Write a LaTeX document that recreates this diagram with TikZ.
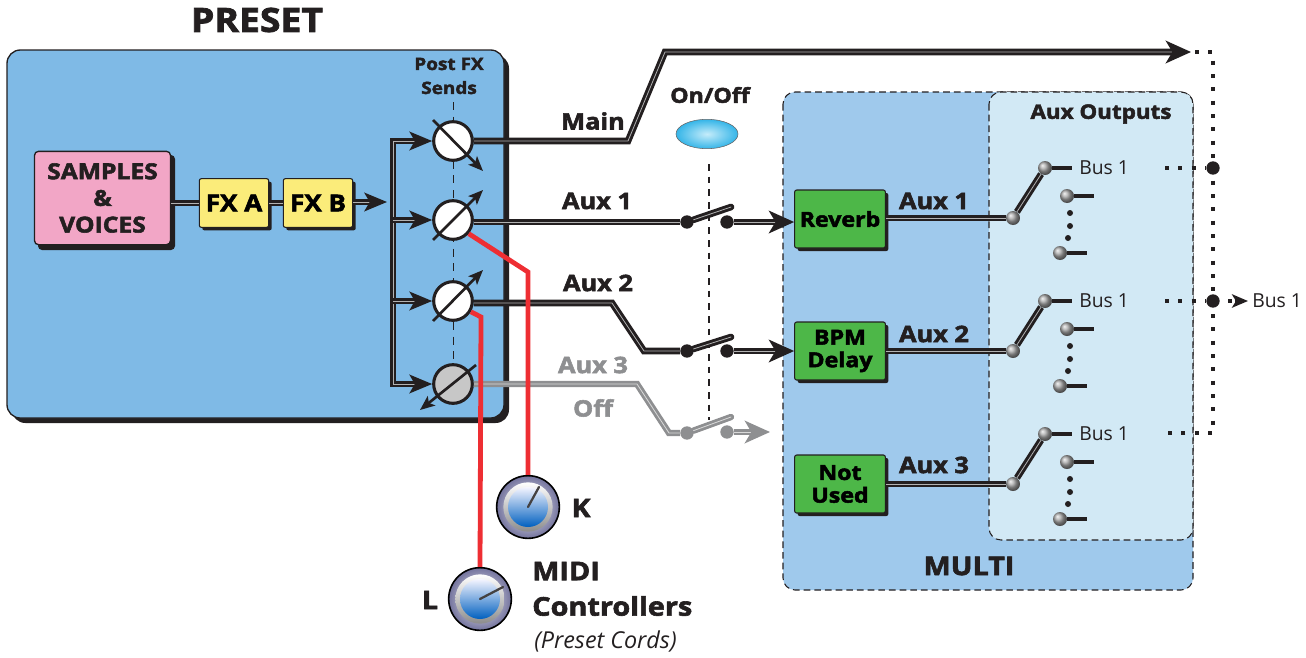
\documentclass[tikz,border=0pt]{standalone}
\usepackage{fontspec}
\setmainfont{Open Sans}[BoldFeatures={FakeBold=2.4,FakeStretch=1.12}]
\usetikzlibrary{arrows.meta,shapes.geometric,shadings}
\definecolor{presetblue}{HTML}{7FBAE6}
\definecolor{multiblue}{HTML}{9FC9EC}
\definecolor{auxblue}{HTML}{D2E9F5}
\definecolor{inkblack}{HTML}{231F20}
\definecolor{offgray}{HTML}{8E8F91}
\definecolor{cordred}{HTML}{EE2E33}
\definecolor{fxyellow}{HTML}{FBEC7A}
\definecolor{srcpink}{HTML}{F2A6C6}
\definecolor{fxgreen}{HTML}{4DB748}
\definecolor{ledin}{HTML}{C5ECFA}
\definecolor{ledout}{HTML}{35B5E8}

\begin{document}
\begin{tikzpicture}[
  x=0.75pt, y=-0.75pt,
  wire/.style={draw=inkblack, line width=2.2pt, double=black!30, double distance=0.6pt, line join=miter},
  grwire/.style={draw=offgray, line width=2.1pt, double=black!15, double distance=0.6pt, line join=miter},
  arm/.style={wire, line cap=round},
  grarm/.style={grwire, line cap=round},
  tip/.style={-{Stealth[length=19pt,width=17pt,inset=5pt]}},
  bustip/.style={-{Stealth[length=17pt,width=14pt,inset=4pt]}},
  needle/.style={draw=inkblack, line width=2pt, -{Stealth[length=11pt,width=9pt,inset=2.5pt]}},
  knob/.style={circle, draw=inkblack, line width=2.3pt, fill=white, inner sep=0pt, minimum size=29pt},
  cord/.style={draw=cordred, line width=3.6pt, line join=miter},
  sdot/.style={circle, fill=inkblack, inner sep=0pt, minimum size=10pt},
  gdot/.style={sdot, fill=offgray},
  ball/.style={circle, inner sep=0pt, minimum size=10.5pt, ball color=black!35},
  stub/.style={draw=inkblack, line width=2.4pt},
  busdot/.style={draw=inkblack, line width=3.2pt, dash pattern=on 3pt off 7pt},
  smalldot/.style={circle, fill=inkblack, inner sep=0pt, minimum size=4.5pt},
  fxbox/.style={draw=inkblack, line width=0.8pt, rounded corners=1.5pt, fill=fxyellow, minimum width=52pt, minimum height=36.5pt, inner sep=0pt, font=\bfseries\fontsize{17.5}{20}\selectfont},
  fxshadow/.style={fill=inkblack, rounded corners=1.5pt, minimum width=52pt, minimum height=36.5pt, inner sep=0pt},
  greenbox/.style={draw=inkblack, line width=0.8pt, rounded corners=1.5pt, fill=fxgreen, minimum width=68pt, minimum height=43.5pt, inner sep=0pt, align=center, font=\bfseries\fontsize{15.5}{19}\selectfont},
  greenshadow/.style={fill=inkblack, rounded corners=1.5pt, minimum width=68pt, minimum height=43.5pt, inner sep=0pt},
  lbl/.style={font=\lblfont, text=inkblack, inner sep=0pt},
  buslbl/.style={font=\fontsize{14.5}{17}\selectfont, text=inkblack, inner sep=0pt},
  ctlouter/.style={circle, draw=black, line width=1.2pt, inner sep=0pt, minimum size=47pt, inner color=white, outer color=blue!30!black!55},
  ctlring/.style={circle, inner sep=0pt, minimum size=37pt, top color=white, bottom color=black!45},
  ctlface/.style={circle, inner sep=0pt, minimum size=30pt, top color=blue!4, bottom color=blue!50!cyan!75!black},
  ptr/.style={draw=inkblack!85, line width=1.7pt, line cap=round}
]
\newcommand{\lblfont}{\bfseries\fontsize{17}{20}\selectfont}
\useasboundingbox (0,0) rectangle (1306,657);

% --- Preset ---
\fill[inkblack, rounded corners=10pt] (12,55) rectangle (509,423);
\filldraw[draw=inkblack, line width=1pt, fill=presetblue, rounded corners=10pt] (7,50) rectangle (504,418);
\node[lbl, font=\bfseries\fontsize{25}{28}\selectfont] (title) at (257,20) {PRESET};
\node[lbl, font=\bfseries\fontsize{12.7}{18}\selectfont, align=center] (sends) at (449,76) {Post FX\\Sends};
\draw[inkblack, line width=0.7pt, dash pattern=on 6pt off 5pt] (453,102) -- (453,385);

% --- Samples and effects ---
\fill[inkblack, rounded corners=3pt] (38,155) rectangle (175,250);
\node[draw=inkblack, line width=1pt, rounded corners=3pt, fill=srcpink, minimum width=102pt, minimum height=70pt, inner sep=0pt, align=center, lbl, font=\bfseries\fontsize{16.5}{20}\selectfont] (samples) at (102.5,198) {SAMPLES\\\&\\VOICES};
\node[fxshadow] at (237,206) {};
\node[fxbox] (fxa) at (234,203) {FX A};
\node[fxshadow] at (321,206) {};
\node[fxbox] (fxb) at (318,203) {FX B};
\coordinate (busin) at (387,202);
\draw[wire] (samples.east |- fxa) -- (fxa);
\draw[wire] (fxa) -- (fxb);
\draw[wire, bustip] (fxb.east |- busin) -- (busin);

% --- Post FX sends ---
\node[knob] (ka) at (453,141) {};
\node[knob] (kb) at (453,220) {};
\node[knob] (kc) at (453,301) {};
\node[knob, fill=black!22] (kd) at (453,384) {};
\coordinate (bust) at (393,141);
\coordinate (busb) at (393,220);
\coordinate (busc) at (393,301);
\coordinate (busd) at (393,384);
\draw[wire, {Stealth[length=17pt,width=14pt,inset=4pt]}-{Stealth[length=17pt,width=14pt,inset=4pt]}] (ka) -- (bust) -- (busd) -- (kd);
\draw[wire, bustip] (busb) -- (kb);
\draw[wire, bustip] (busc) -- (kc);

\coordinate (kas) at (433,120);
\coordinate (kae) at (483,171);
\coordinate (kbs) at (433,240);
\coordinate (kbe) at (483,190);
\coordinate (kcs) at (433,321);
\coordinate (kce) at (483,270);
\coordinate (kds) at (476,365);
\coordinate (kde) at (420,410);
\draw[needle] (kas) -- (kae);
\draw[needle] (kbs) -- (kbe);
\draw[needle] (kcs) -- (kce);
\draw[needle] (kds) -- (kde);

% --- Controllers ---
\coordinate (elbk) at (528,272);
\coordinate (elbl) at (481,317);
\node[ctlouter] (ctlk) at (528,507) {};
\node[ctlring] at (ctlk) {};
\node[ctlface] (facek) at (ctlk) {};
\node[ctlouter] (ctll) at (480,599) {};
\node[ctlring] at (ctll) {};
\node[ctlface] (facel) at (ctll) {};
\coordinate (ptrk) at (539,487);
\coordinate (ptrl) at (503,587);
\draw[ptr] (ctlk.center) -- (ptrk);
\draw[ptr] (ctll.center) -- (ptrl);
\node[lbl, font=\bfseries\fontsize{19}{21}\selectfont] (lblk) at (581,508) {K};
\node[lbl, font=\bfseries\fontsize{19}{21}\selectfont] (lbll) at (430,600) {L};
\node[lbl, anchor=west, font=\bfseries\fontsize{19.3}{21}\selectfont] (midi) at (532,571) {MIDI};
\node[lbl, anchor=west, font=\bfseries\fontsize{19.3}{21}\selectfont] (ctrls) at (532,606) {Controllers};
\node[buslbl, anchor=west, font=\itshape\fontsize{17.5}{20}\selectfont] (cords) at (534,641) {(Preset Cords)};

% --- Multi ---
\filldraw[draw=inkblack, line width=0.8pt, dash pattern=on 5pt off 3pt, fill=multiblue, rounded corners=9pt] (783,92) rectangle (1193,590);
\filldraw[draw=inkblack, line width=0.8pt, dash pattern=on 5pt off 3pt, fill=auxblue, rounded corners=9pt] (989,92) rectangle (1193,540);
\node[lbl, font=\bfseries\fontsize{19.3}{21}\selectfont] (multi) at (969,566) {MULTI};
\node[lbl, font=\bfseries\fontsize{15}{17}\selectfont] (auxout) at (1101,114) {Aux Outputs};
\node[greenshadow] at (843,222) {};
\node[greenbox] (reverb) at (840,219) {Reverb};
\node[greenshadow] at (843,354) {};
\node[greenbox] (bpm) at (840,351) {BPM\\[-2pt]Delay};
\node[greenshadow] at (843,487) {};
\node[greenbox] (notused) at (840,484) {Not\\[-2pt]Used};
\node[lbl] (lblra) at (934,201) {Aux 1};
\node[lbl] (lblrb) at (934,334) {Aux 2};
\node[lbl] (lblrc) at (934,465) {Aux 3};

% --- Main and aux sends ---
\coordinate (mna) at (628,141);
\coordinate (mnb) at (665,52);
\coordinate (mnc) at (1191,52);
\draw[wire, tip] (ka.east) -- (mna) -- (mnb) -- (mnc);
\node[lbl] (lblmain) at (593,121) {Main};
\node[lbl] (lblauxa) at (597,201) {Aux 1};
\node[lbl] (lblauxb) at (598,283) {Aux 2};
\node[lbl, text=offgray] (lblauxc) at (593,365) {Aux 3};
\node[lbl, text=offgray] (lbloff) at (593,408) {Off};

\node[lbl, font=\bfseries\fontsize{15.5}{18}\selectfont] (onoff) at (710,95) {On/Off};
\node[ellipse, draw=inkblack!70, line width=0.4pt, inner sep=0pt, minimum width=46.5pt, minimum height=22pt, inner color=ledin, outer color=ledout] (led) at (707,134) {};
\coordinate (ledb) at (709,164);
\coordinate (ledc) at (709,420);
\draw[inkblack, line width=1.1pt, dash pattern=on 5pt off 4.5pt] (ledb) -- (ledc);

\node[sdot] (swa) at (687,222) {};
\node[sdot] (swb) at (727,222) {};
\coordinate (arma) at (731,207);
\draw[wire] (kb.east |- swa) -- (swa);
\draw[arm] (swa) -- (arma);
\draw[wire, tip] (swb) -- (reverb.west |- swb);

\coordinate (axba) at (612,303);
\coordinate (axbb) at (644,351);
\node[sdot] (swc) at (687,351) {};
\node[sdot] (swd) at (727,351) {};
\coordinate (armb) at (731,337);
\draw[wire] (kc.east |- axba) -- (axba) -- (axbb) -- (swc);
\draw[arm] (swc) -- (armb);
\draw[wire, tip] (swd) -- (bpm.west |- swd);

\coordinate (axca) at (637,384);
\coordinate (axcb) at (669,433);
\coordinate (axcc) at (770,432);
\node[gdot] (swe) at (687,433) {};
\node[gdot] (swf) at (727,432) {};
\coordinate (armc) at (731,417);
\draw[grwire] (kd.east) -- (axca) -- (axcb) -- (swe);
\draw[grarm] (swe) -- (armc);
\draw[grwire, tip] (swf) -- (axcc);

% cords run over the sends
\draw[cord] (kb.-41) -- (elbk) -- (ctlk.north);
\draw[cord] (kc.-31) -- (elbl) -- (ctll.north);

% --- Aux outputs ---
\node[ball] (ra) at (1013,218) {};
\node[ball] (rat) at (1045,168) {};
\node[ball] (ram) at (1067,196) {};
\node[ball] (rab) at (1060,253) {};
\coordinate (stat) at (1072,168);
\coordinate (stam) at (1094,196);
\coordinate (stab) at (1087,253);
\draw[stub] (rat) -- (stat);
\draw[stub] (ram) -- (stam);
\draw[stub] (rab) -- (stab);
\draw[wire] (reverb.east |- ra) -- (ra);
\draw[wire] (ra) -- (rat);
\node[smalldot] at (1070,213) {};
\node[smalldot] at (1070,226) {};
\node[smalldot] at (1068,238) {};
\node[buslbl, anchor=west] (busa) at (1079,168) {Bus 1};

\node[ball] (rb) at (1013,351) {};
\node[ball] (rbt) at (1045,301) {};
\node[ball] (rbm) at (1067,329) {};
\node[ball] (rbb) at (1060,386) {};
\coordinate (stbt) at (1072,301);
\coordinate (stbm) at (1094,329);
\coordinate (stbb) at (1087,386);
\draw[stub] (rbt) -- (stbt);
\draw[stub] (rbm) -- (stbm);
\draw[stub] (rbb) -- (stbb);
\draw[wire] (bpm.east |- rb) -- (rb);
\draw[wire] (rb) -- (rbt);
\node[smalldot] at (1070,346) {};
\node[smalldot] at (1070,359) {};
\node[smalldot] at (1068,371) {};
\node[buslbl, anchor=west] (busb) at (1079,301) {Bus 1};

\node[ball] (rc) at (1013,484) {};
\node[ball] (rct) at (1045,434) {};
\node[ball] (rcm) at (1067,462) {};
\node[ball] (rcb) at (1060,519) {};
\coordinate (stct) at (1072,434);
\coordinate (stcm) at (1094,462);
\coordinate (stcb) at (1087,519);
\draw[stub] (rct) -- (stct);
\draw[stub] (rcm) -- (stcm);
\draw[stub] (rcb) -- (stcb);
\draw[wire] (notused.east |- rc) -- (rc);
\draw[wire] (rc) -- (rct);
\node[smalldot] at (1070,479) {};
\node[smalldot] at (1070,492) {};
\node[smalldot] at (1068,504) {};
\node[buslbl, anchor=west] (busc) at (1079,434) {Bus 1};

% --- Bus 1 return ---
\node[sdot] (joina) at (1213,168) {};
\node[sdot] (joinb) at (1213,301) {};
\coordinate (bra) at (1195,52);
\coordinate (brb) at (1213,52);
\coordinate (brc) at (1213,433);
\coordinate (brd) at (1165,433);
\coordinate (bre) at (1165,168);
\coordinate (brf) at (1165,301);
\coordinate (brg) at (1228,301);
\draw[busdot] (bra) -- (brb) -- (brc) -- (brd);
\draw[busdot] (bre) -- (joina);
\draw[busdot] (brf) -- (joinb);
\node[buslbl, anchor=west] (busout) at (1252,301) {Bus 1};
\draw[inkblack, line width=2.4pt, dash pattern=on 3pt off 2pt, shorten >=3pt, -{Stealth[length=12pt,width=10pt,inset=3pt]}] (brg) -- (busout);
\end{tikzpicture}
\end{document}
